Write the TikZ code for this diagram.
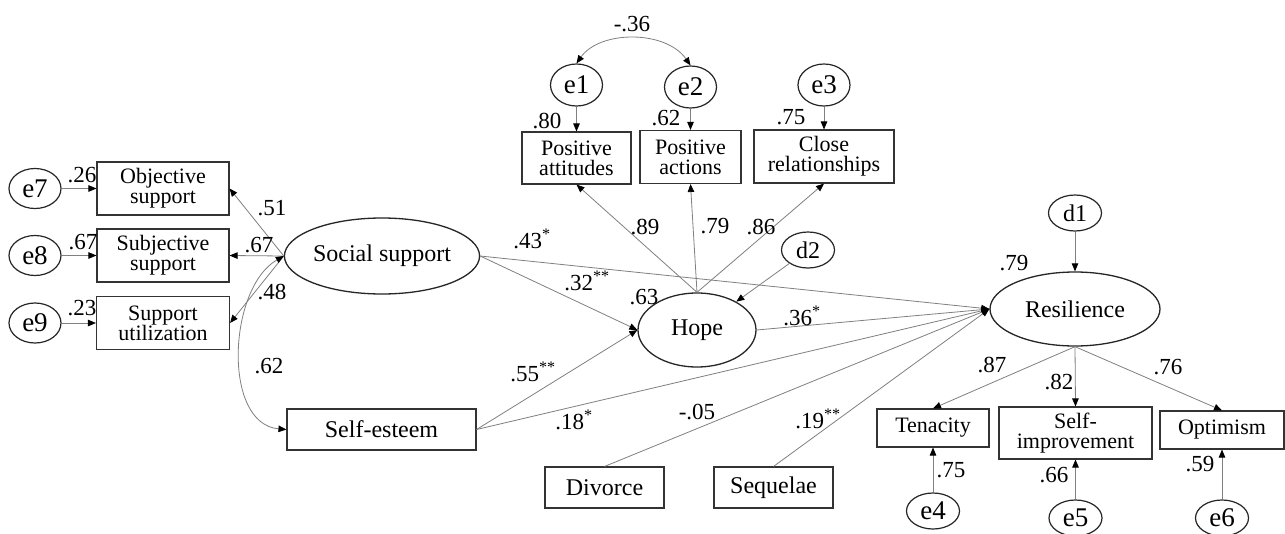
\documentclass[tikz,border=0pt]{standalone}
\usepackage{fontspec}
\setmainfont{Liberation Serif}
\usetikzlibrary{shapes.geometric,arrows.meta}
\begin{document}
\begin{tikzpicture}[x=1pt,y=-1pt,
  boxone/.style={draw=black!80,line width=1.1pt,rectangle,inner sep=0pt,align=center,font=\fontsize{24}{24}\selectfont},
  boxtwo/.style={draw=black!80,line width=1.1pt,rectangle,inner sep=0pt,align=center,font=\fontsize{22}{20}\selectfont},
  latent/.style={draw=black!85,line width=1.3pt,ellipse,inner sep=0pt,font=\fontsize{24}{24}\selectfont},
  err/.style={draw=black!85,line width=1.2pt,ellipse,inner sep=0pt,font=\fontsize{27}{27}\selectfont},
  dist/.style={draw=black!85,line width=1.2pt,ellipse,inner sep=0pt,font=\fontsize{24}{24}\selectfont},
  conn/.style={draw=black!50,line width=0.8pt,-{Triangle[length=8pt,width=6.5pt,color=black]}},
  cov/.style={draw=black!50,line width=0.8pt,{Triangle[length=8pt,width=6.5pt,color=black]}-{Triangle[length=8pt,width=6.5pt,color=black]}},
  num/.style={inner sep=0pt,font=\fontsize{23}{23}\selectfont}]
\useasboundingbox[fill=white] (0,0) rectangle (1285,533);

% left indicators
\node[boxtwo,minimum width=132pt,minimum height=53pt] (objs) at (163,188.5) {Objective\\support};
\node[boxtwo,minimum width=132pt,minimum height=53pt] (subs) at (163,255.5) {Subjective\\support};
\node[boxtwo,minimum width=133pt,minimum height=53pt] (sutil) at (163,323) {Support\\utilization};
\node[err,minimum width=52pt,minimum height=40pt] (e7) at (35,188.5) {e7};
\node[err,minimum width=52pt,minimum height=40pt] (e8) at (35,255.5) {e8};
\node[err,minimum width=52pt,minimum height=40pt] (e9) at (35,323) {e9};

% latent variables
\node[latent,minimum width=190pt,minimum height=76pt] (ss) at (382,256) {Social support};
\node[latent,minimum width=118pt,minimum height=74pt] (hope) at (697,330) {Hope};
\node[latent,minimum width=170pt,minimum height=74pt] (res) at (1075,309) {Resilience};

% hope indicators
\node[boxtwo,minimum width=109pt,minimum height=52pt] (pa) at (576.5,158) {Positive\\attitudes};
\node[boxtwo,minimum width=101pt,minimum height=53pt] (pact) at (690.5,157) {Positive\\actions};
\node[boxtwo,minimum width=140pt,minimum height=53pt] (cr) at (824,156.5) {Close\\relationships};
\node[err,minimum width=52pt,minimum height=42pt] (e1) at (576.5,85) {e1};
\node[err,minimum width=52pt,minimum height=42pt] (e2) at (690.5,87) {e2};
\node[err,minimum width=52pt,minimum height=42pt] (e3) at (824,85) {e3};
\node[dist,minimum width=53pt,minimum height=36pt] (d2) at (808,250) {d2};
\node[dist,minimum width=53pt,minimum height=36pt] (d1) at (1075,213) {d1};

% observed predictors
\node[boxone,minimum width=189pt,minimum height=41pt] (se) at (381.5,429.5) {Self-esteem};
\node[boxone,minimum width=119pt,minimum height=41pt] (div) at (604.5,487.5) {Divorce};
\node[boxone,minimum width=119pt,minimum height=41pt] (seq) at (773.5,487.5) {Sequelae};

% resilience indicators
\node[boxtwo,minimum width=112pt,minimum height=38pt] (ten) at (933,428) {Tenacity};
\node[boxtwo,minimum width=153pt,minimum height=52pt] (simp) at (1075.5,433) {Self-\\improvement};
\node[boxtwo,minimum width=124pt,minimum height=38pt] (opt) at (1222,430) {Optimism};
\node[err,minimum width=53pt,minimum height=36pt] (e4) at (933,511) {e4};
\node[err,minimum width=53pt,minimum height=36pt] (e5) at (1075.5,518) {e5};
\node[err,minimum width=53pt,minimum height=36pt] (e6) at (1222,518) {e6};

% connectors
\draw[conn] (e7) -- (objs);
\draw[conn] (e8) -- (subs);
\draw[conn] (e9) -- (sutil);
\draw[conn] (ss.west) -- (objs.east);
\draw[conn] (ss.west) -- (subs.east);
\draw[conn] (ss.west) -- (sutil.east);
\draw[cov] (ss.west) .. controls (228,288) and (222,424) .. (se.west);

\draw[conn] (e1) -- (pa);
\draw[conn] (e2) -- (pact);
\draw[conn] (e3) -- (cr);
\draw[cov] (e1.north) .. controls (600,30) and (666,30) .. (e2.north);
\draw[conn] (hope.north) -- (pa.south);
\draw[conn] (hope.north) -- (pact.south);
\draw[conn] (hope.north) -- (cr.south);
\draw[conn] (d2) -- (hope);

\draw[conn] (ss.east) -- (hope.west);
\draw[conn] (se.east) -- (hope.west);
\draw[conn] (ss.east) -- (res.west);
\draw[conn] (hope.east) -- (res.west);
\draw[conn] (se.east) -- (res.west);
\draw[conn] (div.north) -- (res.west);
\draw[conn] (seq.north) -- (res.west);

\draw[conn] (d1) -- (res);
\draw[conn] (res.south) -- (ten.north);
\draw[conn] (res.south) -- (simp.north);
\draw[conn] (res.south) -- (opt.north);
\draw[conn] (e4) -- (ten);
\draw[conn] (e5) -- (simp);
\draw[conn] (e6) -- (opt);

% labels
\node[num] (l26) at (82,175) {.26};
\node[num] (l67a) at (83,242) {.67};
\node[num] (l23) at (82,308) {.23};
\node[num] (l51) at (272,208) {.51};
\node[num] (l67b) at (259,245) {.67};
\node[num] (l48) at (272,292) {.48};
\node[num] (l62) at (269,366) {.62};
\node[num] (l80) at (547,121) {.80};
\node[num] (l62b) at (666,118) {.62};
\node[num] (l75) at (791,117) {.75};
\node[num] (l36n) at (632,24) {-.36};
\node[num] (l89) at (645,227) {.89};
\node[num] (l79) at (715,226) {.79};
\node[num] (l86) at (761,227) {.86};
\node[num] (l43) at (532,239) {.43\textsuperscript{*}};
\node[num] (l32) at (587,281) {.32\textsuperscript{**}};
\node[num] (l63) at (644,297) {.63};
\node[num] (l36) at (802,316) {.36\textsuperscript{*}};
\node[num] (l55) at (533,372) {.55\textsuperscript{**}};
\node[num] (l18) at (574,420) {.18\textsuperscript{*}};
\node[num] (l05) at (697,412) {-.05};
\node[num] (l19) at (818,419) {.19\textsuperscript{**}};
\node[num] (l79b) at (1014,263) {.79};
\node[num] (l87) at (992,365) {.87};
\node[num] (l82) at (1059,382) {.82};
\node[num] (l76) at (1168,367) {.76};
\node[num] (l75b) at (951,470) {.75};
\node[num] (l66) at (1054,475) {.66};
\node[num] (l59) at (1200,464) {.59};
\end{tikzpicture}
\end{document}
